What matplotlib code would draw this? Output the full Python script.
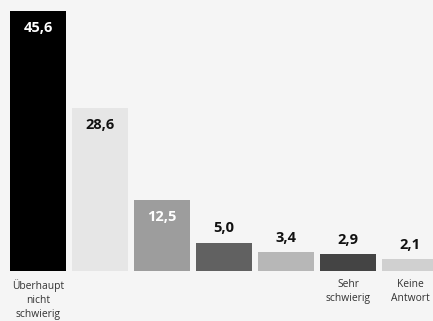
import matplotlib
matplotlib.use("Agg")
import matplotlib.pyplot as plt

categories = ["Überhaupt\nnicht\nschwierig", "", "", "", "", "Sehr\nschwierig", "Keine\nAntwort"]
values = [45.6, 28.6, 12.5, 5.0, 3.4, 2.9, 2.1]
labels = ["45,6", "28,6", "12,5", "5,0", "3,4", "2,9", "2,1"]
colors = ["#000000", "#e6e6e6", "#9d9d9d", "#616161", "#b7b7b7", "#444444", "#d0d0d0"]
inside = [True, True, True, False, False, False, False]
label_colors = ["white", "#111111", "white", "#111111", "#111111", "#111111", "#111111"]

bg = "#f5f5f5"
fig = plt.figure(figsize=(4.33, 3.21), dpi=100, facecolor=bg)
ax = fig.add_axes([0, 0, 1, 1], facecolor=bg)

x = list(range(len(values)))
ax.bar(x, values, width=0.903, color=colors, linewidth=0)

px = 1 / 5.70  # data units per pixel vertically
for xi, v, lab, ins, lc in zip(x, values, labels, inside, label_colors):
    if ins:
        ax.text(xi, v - 17 * px, lab, ha="center", va="center",
                fontsize=10.5, fontweight="bold", color=lc, family="Open Sans")
    else:
        ax.text(xi, v + 14 * px, lab, ha="center", va="center",
                fontsize=10.5, fontweight="bold", color=lc, family="Open Sans")

for xi, c in zip(x, categories):
    if c:
        ax.text(xi, -8 * px, c, ha="center", va="top", fontsize=7.4,
                color="#333333", family="Open Sans", linespacing=1.38)

ax.set_xlim(-0.613, 6.371)
ax.set_ylim(-50 * px, 271 * px)
ax.axis("off")

fig.savefig("out.png", dpi=100, facecolor=bg)
